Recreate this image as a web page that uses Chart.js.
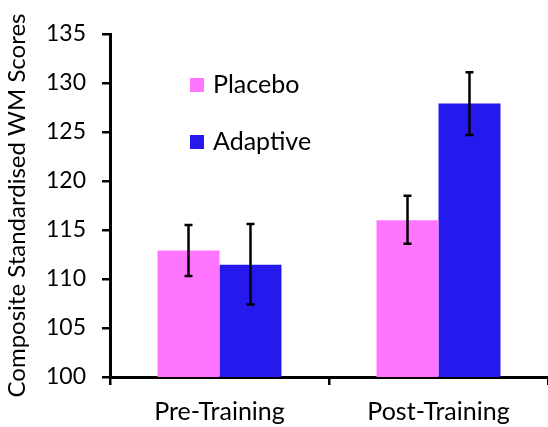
<!DOCTYPE html>
<html>
<head>
<meta charset="utf-8">
<script src="https://cdn.jsdelivr.net/npm/chart.js@4"></script>
<style>
  html, body { margin: 0; padding: 0; background: #fff; }
  #wrap { width: 548px; height: 427px; }
</style>
</head>
<body>
<div id="wrap"><canvas id="chart" width="548" height="427"></canvas></div>
<script>
// data
const groups = ["Pre-Training", "Post-Training"];
const seriesNames = ["Placebo", "Adaptive"];
const placebo = [112.9, 116.0];
const adaptive = [111.45, 127.9];
const placeboHi = [115.5, 118.5];
const placeboLo = [110.3, 113.6];
const adaptiveHi = [115.6, 131.1];
const adaptiveLo = [107.4, 124.7];
const yTicks = [100, 105, 110, 115, 120, 125, 130, 135];

const FONT = "Lato, 'Open Sans', sans-serif";
const colors = ["#ff75ff", "#2519ee"];

// error bars drawn from the hi / lo arrays
const errorBars = {
    id: "errorBars",
    afterDatasetsDraw(chart) {
        let ctx = chart.ctx;
        let y = chart.scales.y;
        let ranges = [[placeboLo, placeboHi], [adaptiveLo, adaptiveHi]];
        ctx.save();
        ctx.strokeStyle = "#000";
        ctx.lineWidth = 2.5;
        ranges.forEach((r, di) => {
            chart.getDatasetMeta(di).data.forEach((bar, i) => {
                let top = y.getPixelForValue(r[1][i]);
                let bot = y.getPixelForValue(r[0][i]);
                ctx.beginPath();
                ctx.moveTo(bar.x, top); ctx.lineTo(bar.x, bot);
                ctx.moveTo(bar.x - 4, top); ctx.lineTo(bar.x + 4, top);
                ctx.moveTo(bar.x - 4, bot); ctx.lineTo(bar.x + 4, bot);
                ctx.stroke();
            });
        });
        ctx.restore();
    }
};

// legend inside the plot, upper left
const innerLegend = {
    id: "innerLegend",
    afterDraw(chart) {
        let ctx = chart.ctx;
        ctx.save();
        ctx.font = "25px " + FONT;
        ctx.textBaseline = "middle";
        chart.data.datasets.forEach((ds, i) => {
            let yy = 85 + i * 57;
            ctx.fillStyle = ds.backgroundColor;
            ctx.fillRect(190, yy - 7, 14, 14);
            ctx.fillStyle = "#000";
            ctx.fillText(ds.label, 213, yy);
        });
        ctx.restore();
    }
};

new Chart(document.getElementById("chart"), {
    type: "bar",
    data: {
        labels: groups,
        datasets: [
            { label: seriesNames[0], data: placebo, backgroundColor: colors[0] },
            { label: seriesNames[1], data: adaptive, backgroundColor: colors[1] }
        ]
    },
    options: {
        responsive: false,
        animation: false,
        layout: { padding: { top: 34, right: 0, left: 0, bottom: 0 } },
        datasets: { bar: { categoryPercentage: 0.566, barPercentage: 1 } },
        plugins: { legend: { display: false }, tooltip: { enabled: false } },
        scales: {
            x: {
                offset: true,
                grid: { offset: true, drawOnChartArea: false, color: "#000", lineWidth: 2.5, tickLength: 8 },
                border: { color: "#000", width: 3 },
                ticks: { color: "#000", font: { family: FONT, size: 25 }, padding: 12 },
                afterFit(s) { s.height = 50; }
            },
            y: {
                min: 100,
                max: 135,
                afterBuildTicks(s) { s.ticks = yTicks.map(v => ({ value: v })); },
                grid: { drawOnChartArea: false, color: "#000", lineWidth: 2.5, tickLength: 8 },
                border: { color: "#000", width: 3 },
                ticks: { color: "#000", font: { family: FONT, size: 23 }, padding: 16 },
                title: { display: true, text: "Composite Standardised WM Scores", color: "#000",
                         font: { family: FONT, size: 24 }, padding: { top: 3, bottom: 0 } },
                afterFit(s) { s.width = 110; }
            }
        }
    },
    plugins: [errorBars, innerLegend]
});
</script>
</body>
</html>
